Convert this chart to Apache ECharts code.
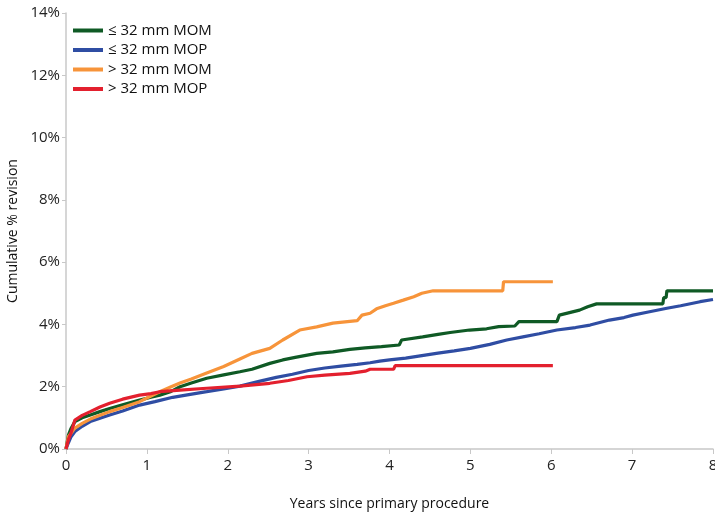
<!DOCTYPE html>
<html>
<head>
<meta charset="utf-8">
<script src="https://cdn.jsdelivr.net/npm/echarts@6/dist/echarts.min.js"></script>
<style>
  html, body { margin: 0; padding: 0; background: #fff; }
  #chart { width: 715px; height: 519px; }
</style>
</head>
<body>
<div id="chart"></div>
<script>
// series names
var seriesNames = ['≤ 32 mm MOM', '≤ 32 mm MOP', '> 32 mm MOM', '> 32 mm MOP'];

// ≤ 32 mm MOM (repeated years = vertical jumps)
var momSmallYears = [0, 0.03, 0.06, 0.11, 0.2, 0.3, 0.42, 0.54, 0.7, 0.91, 1.05, 1.16, 1.3, 1.41, 1.55, 1.74, 1.95, 2.15, 2.3, 2.52, 2.68, 2.85, 3.1, 3.3, 3.51, 3.7, 3.9, 4.12, 4.15, 4.41, 4.6, 4.75, 4.99, 5.2, 5.35, 5.55, 5.6, 6.07, 6.1, 6.35, 6.45, 6.56, 7.38, 7.39, 7.42, 7.43, 8.0];
var momSmallPct   = [0, 0.45, 0.65, 0.88, 1.0, 1.09, 1.2, 1.3, 1.42, 1.57, 1.66, 1.73, 1.85, 2.0, 2.12, 2.27, 2.38, 2.48, 2.56, 2.75, 2.86, 2.95, 3.07, 3.12, 3.2, 3.25, 3.29, 3.34, 3.5, 3.6, 3.68, 3.74, 3.82, 3.86, 3.93, 3.95, 4.09, 4.09, 4.3, 4.46, 4.57, 4.66, 4.66, 4.86, 4.86, 5.08, 5.08];

// ≤ 32 mm MOP
var mopSmallYears = [0, 0.03, 0.06, 0.11, 0.2, 0.3, 0.42, 0.54, 0.7, 0.91, 1.1, 1.32, 1.5, 1.74, 1.95, 2.15, 2.4, 2.6, 2.8, 3.0, 3.2, 3.4, 3.6, 3.76, 3.88, 4.0, 4.2, 4.4, 4.6, 4.8, 5.0, 5.24, 5.45, 5.65, 5.85, 6.07, 6.3, 6.48, 6.72, 6.9, 7.01, 7.2, 7.43, 7.6, 7.84, 8.0];
var mopSmallPct   = [0, 0.2, 0.38, 0.56, 0.73, 0.88, 0.99, 1.09, 1.22, 1.41, 1.52, 1.66, 1.74, 1.84, 1.93, 2.02, 2.18, 2.3, 2.4, 2.52, 2.6, 2.66, 2.72, 2.77, 2.82, 2.86, 2.92, 3.0, 3.08, 3.15, 3.23, 3.36, 3.5, 3.6, 3.7, 3.82, 3.9, 3.98, 4.14, 4.22, 4.3, 4.4, 4.52, 4.6, 4.73, 4.8];

// > 32 mm MOM
var momLargeYears = [0, 0.03, 0.06, 0.11, 0.2, 0.3, 0.42, 0.54, 0.7, 0.91, 1.05, 1.16, 1.3, 1.41, 1.55, 1.74, 1.95, 2.15, 2.3, 2.52, 2.68, 2.89, 3.1, 3.3, 3.6, 3.66, 3.76, 3.84, 3.95, 4.05, 4.17, 4.3, 4.4, 4.54, 5.4, 5.41, 6.02];
var momLargePct   = [0, 0.4, 0.5, 0.67, 0.82, 0.96, 1.08, 1.2, 1.33, 1.52, 1.7, 1.84, 2.0, 2.12, 2.25, 2.44, 2.65, 2.89, 3.07, 3.23, 3.5, 3.82, 3.92, 4.04, 4.12, 4.3, 4.36, 4.5, 4.6, 4.68, 4.78, 4.89, 5.0, 5.08, 5.08, 5.37, 5.37];

// > 32 mm MOP
var mopLargeYears = [0, 0.03, 0.06, 0.11, 0.2, 0.3, 0.42, 0.54, 0.7, 0.91, 1.05, 1.16, 1.41, 1.74, 2.15, 2.52, 2.75, 2.98, 3.2, 3.51, 3.7, 3.76, 4.05, 4.07, 6.02];
var mopLargePct   = [0, 0.3, 0.5, 0.93, 1.08, 1.2, 1.35, 1.47, 1.6, 1.73, 1.78, 1.84, 1.89, 1.95, 2.02, 2.11, 2.2, 2.32, 2.37, 2.43, 2.5, 2.56, 2.56, 2.68, 2.68];

var colors = ['#0f5a25', '#2f4da3', '#f7943a', '#e3202e'];

function pairs(xs, ys) {
  return xs.map(function (x, i) { return [x, ys[i]]; });
}

var font = '"Open Sans", sans-serif';
var chart = echarts.init(document.getElementById('chart'));

var allData = [
  pairs(momSmallYears, momSmallPct),
  pairs(mopSmallYears, mopSmallPct),
  pairs(momLargeYears, momLargePct),
  pairs(mopLargeYears, mopLargePct)
];

chart.setOption({
  animation: false,
  color: colors,
  grid: { left: 66, right: 2, top: 13, bottom: 70, outerBoundsMode: 'none' },
  legend: {
    orient: 'vertical',
    left: 68,
    top: 18,
    itemWidth: 30,
    itemHeight: 4,
    itemGap: 4.5,
    icon: 'rect',
    textStyle: { fontFamily: font, fontSize: 15, color: '#111' },
    data: seriesNames
  },
  xAxis: {
    type: 'value',
    min: 0,
    max: 8,
    interval: 1,
    name: 'Years since primary procedure',
    nameLocation: 'middle',
    nameGap: 48,
    nameTextStyle: { fontFamily: font, fontSize: 14, color: '#111' },
    axisLine: { lineStyle: { color: '#c8c8c8', width: 1.5 } },
    axisTick: { show: true, length: 5, lineStyle: { color: '#c8c8c8' } },
    axisLabel: { fontFamily: font, fontSize: 15, color: '#222', margin: 9 },
    splitLine: { show: false }
  },
  yAxis: {
    type: 'value',
    min: 0,
    max: 14,
    interval: 2,
    name: 'Cumulative % revision',
    nameLocation: 'middle',
    nameGap: 40,
    nameTextStyle: { fontFamily: font, fontSize: 14, color: '#111' },
    axisLine: { show: true, lineStyle: { color: '#c8c8c8', width: 1.5 } },
    axisTick: { show: true, length: 4, lineStyle: { color: '#c8c8c8' } },
    axisLabel: { fontFamily: font, fontSize: 15, color: '#222', margin: 6, formatter: '{value}%' },
    splitLine: { show: false }
  },
  series: seriesNames.map(function (name, i) {
    return {
      name: name,
      type: 'line',
      symbol: 'none',
      lineStyle: { width: 3.2, color: colors[i] },
      data: allData[i]
    };
  })
});
</script>
</body>
</html>
